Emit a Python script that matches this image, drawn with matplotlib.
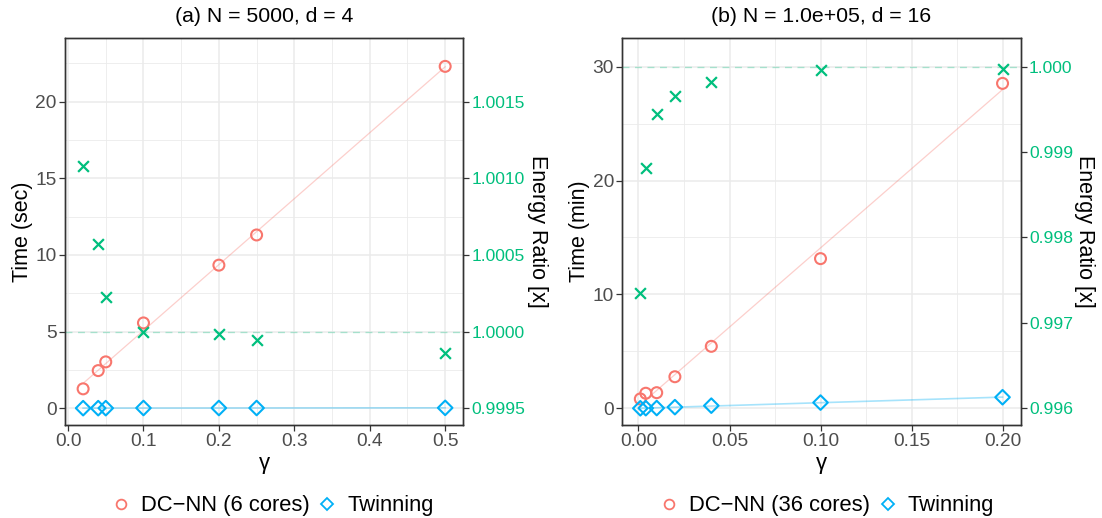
import matplotlib
matplotlib.use("Agg")
import matplotlib.pyplot as plt
import numpy as np
from matplotlib.lines import Line2D
from matplotlib.ticker import FixedLocator, MultipleLocator, FormatStrFormatter

plt.rcParams['font.family'] = ['Liberation Sans', 'DejaVu Sans']

# (a) N = 5000, d = 4
gamma_a = [0.02, 0.04, 0.05, 0.1, 0.2, 0.25, 0.5]
time_dcnn_a = [1.26, 2.45, 3.02, 5.56, 9.33, 11.3, 22.3]
time_twin_a = [0.0, 0.0, 0.0, 0.01, 0.01, 0.01, 0.02]
energy_a = [1.00108, 1.00057, 1.000222, 1.0000, 0.999987, 0.999946, 0.999859]

# (b) N = 1.0e+05, d = 16
gamma_b = [0.001, 0.004, 0.01, 0.02, 0.04, 0.1, 0.2]
time_dcnn_b = [0.82, 1.32, 1.37, 2.77, 5.44, 13.14, 28.53]
time_twin_b = [0.0, 0.01, 0.02, 0.1, 0.23, 0.5, 0.97]
energy_b = [0.997347, 0.998817, 0.999449, 0.99966, 0.99982, 0.99996, 0.999976]

RED = '#F8766D'
GREEN = '#00BF7D'
BLUE = '#00B0F6'
GRID = '#EBEBEB'
DARK = '#333333'
TICKTXT = '#4D4D4D'


def panel(ax, x, t_dc, t_tw, energy, title, ylabel, xlim, ylim, xmaj, ymaj,
          e_base, e_scale, e_ticks, e_fmt):
    # fitted trend lines (lm), drawn behind the points
    xs = np.array([min(x), max(x)])
    for t, c, lw in [(t_dc, RED, 0.9), (t_tw, BLUE, 1.2)]:
        k, b = np.polyfit(x, t, 1)
        ax.plot(xs, k * xs + b, color=c, alpha=0.35, lw=lw, zorder=2)

    ax.scatter(x, t_dc, s=62, facecolors='none', edgecolors=RED,
               linewidths=1.5, marker='o', zorder=3)
    ax.scatter(x, t_tw, s=55, facecolors='none', edgecolors=BLUE,
               linewidths=1.5, marker='D', zorder=3)

    ax.set_xlim(xlim)
    ax.set_ylim(ylim)
    ax.xaxis.set_major_locator(MultipleLocator(xmaj))
    ax.xaxis.set_minor_locator(MultipleLocator(xmaj / 2))
    ax.yaxis.set_major_locator(MultipleLocator(ymaj))
    ax.yaxis.set_minor_locator(MultipleLocator(ymaj / 2))
    ax.grid(which='major', color=GRID, lw=1.1, zorder=0)
    ax.grid(which='minor', color=GRID, lw=0.6, zorder=0)
    ax.set_axisbelow(True)
    ax.tick_params(which='major', length=4, width=0.9, color=DARK,
                   labelsize=13.8, labelcolor=TICKTXT, pad=2)
    ax.tick_params(which='minor', length=0)
    for sp in ax.spines.values():
        sp.set_color(DARK)
        sp.set_linewidth(1.0)

    ax.set_title(title, fontsize=15.3, pad=11.5)
    ax.set_ylabel(ylabel, fontsize=15.5, labelpad=2)
    ax.set_xlabel('\u03b3', fontsize=16, labelpad=2)

    # energy ratio on the secondary axis
    ax2 = ax.twinx()
    ax2.set_ylim(e_base + ylim[0] / e_scale, e_base + ylim[1] / e_scale)
    ax2.axhline(1.0, color=GREEN, alpha=0.3, lw=1.0, ls=(0, (5, 4)), zorder=1)
    ax2.scatter(x, energy, s=60, color=GREEN, marker='x', linewidths=1.6,
                zorder=3)
    ax2.yaxis.set_major_locator(FixedLocator(e_ticks))
    ax2.set_yticklabels([e_fmt.format(v) for v in e_ticks])
    ax2.tick_params(length=4, width=0.9, color=DARK, labelsize=12.6,
                    labelcolor=GREEN, pad=2)
    ax2.set_ylabel('Energy Ratio [x]', fontsize=15.5, rotation=270,
                   labelpad=16)
    for sp in ax2.spines.values():
        sp.set_color(DARK)
        sp.set_linewidth(1.0)
    return ax2


fig = plt.figure(figsize=(11.02, 5.18), dpi=100)
ax_a = fig.add_axes([0.0590, 0.1795, 0.3614, 0.7477])
ax_b = fig.add_axes([0.5647, 0.1795, 0.3614, 0.7477])

panel(ax_a, gamma_a, time_dcnn_a, time_twin_a, energy_a,
      '(a) N = 5000, d = 4', 'Time (sec)',
      (-0.004, 0.524), (-1.1, 24.17), 0.1, 5,
      0.9995, 1e4, [0.9995, 1.0, 1.0005, 1.001, 1.0015], '{:.4f}')
panel(ax_b, gamma_b, time_dcnn_b, time_twin_b, energy_b,
      '(b) N = 1.0e+05, d = 16', 'Time (min)',
      (-0.0089, 0.2099), (-1.47, 32.54), 0.05, 10,
      0.996, 7500, [0.996, 0.997, 0.998, 0.999, 1.0], '{:.3f}')
ax_a.xaxis.set_major_formatter(FormatStrFormatter('%.1f'))
ax_b.xaxis.set_major_formatter(FormatStrFormatter('%.2f'))


def legend_at(xc, cores):
    handles = [
        Line2D([], [], ls='none', marker='o', mfc='none', mec=RED, mew=1.3, ms=7),
        Line2D([], [], ls='none', marker='D', mfc='none', mec=BLUE, mew=1.3, ms=6),
    ]
    labels = ['DC\u2212NN ({} cores)'.format(cores), 'Twinning']
    fig.legend(handles, labels, loc='center', bbox_to_anchor=(xc, 1 - 506 / 518),
               ncol=2, frameon=False, fontsize=15.8, handlelength=1.0,
               handletextpad=0.4, columnspacing=0.3)


legend_at(272 / 1102, 6)
legend_at(826 / 1102, 36)

fig.savefig('out.png', dpi=100)
